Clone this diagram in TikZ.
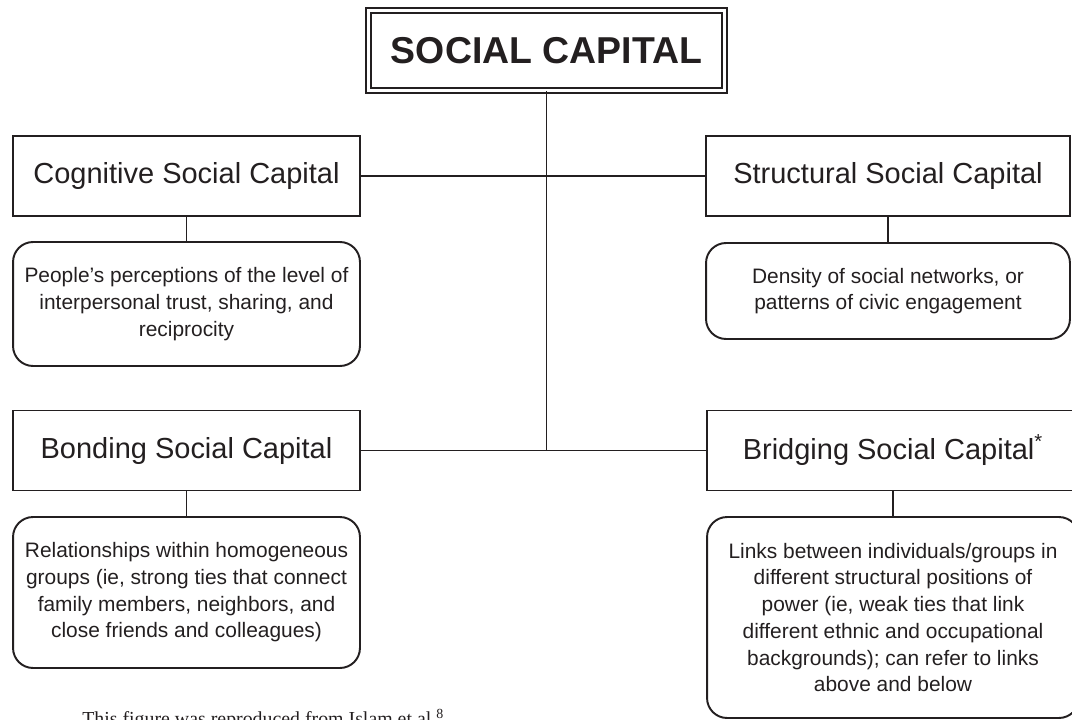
\documentclass[tikz,border=0pt]{standalone}
\usepackage{fontspec}
\setmainfont{Liberation Sans}
\newfontfamily\capfont{Liberation Serif}
\definecolor{ink}{RGB}{35,31,32}
\begin{document}
\begin{tikzpicture}[x=0.02cm,y=-0.02cm,
    capbox/.style={draw=ink,text=ink,line width=1.1pt,minimum height=1.6cm,font=\fontsize{16.5}{20}\selectfont},
    notebox/.style={draw=ink,text=ink,line width=1.1pt,rounded corners=0.4cm,align=center,font=\fontsize{11.9}{15.2}\selectfont},
    link/.style={draw=ink,line width=0.85pt}]
        \useasboundingbox (0,0) rectangle (1072,720);
        \node(title) at (546.5,50.5) [draw=ink,double,line width=1.1pt,double distance=1.6pt,minimum width=7.12cm,minimum height=1.6cm,font=\fontsize{21.3}{24}\selectfont\bfseries,text=ink]{SOCIAL CAPITAL};

        \node(cog) at (186.5,176) [capbox,minimum width=6.94cm]{Cognitive Social Capital};
        \node(struct) at (888,176) [capbox,minimum width=7.28cm]{Structural Social Capital};
        \node(bond) at (186.5,450.5) [capbox,minimum width=6.94cm]{Bonding Social Capital};
        \node(bridge) at (893,450.5) [capbox,minimum width=7.44cm]{Bridging Social Capital\textsuperscript{*}};

        \node(cogtxt) at (186.5,304) [notebox,minimum width=6.94cm,minimum height=2.48cm]{People’s perceptions of the level of\\interpersonal trust, sharing, and\\reciprocity};
        \node(structtxt) at (888,291) [notebox,minimum width=7.28cm,minimum height=1.92cm]{Density of social networks, or\\patterns of civic engagement};
        \node(bondtxt) at (186.5,592.5) [notebox,minimum width=6.94cm,minimum height=3.02cm]{Relationships within homogeneous\\groups (ie, strong ties that connect\\family members, neighbors, and\\close friends and colleagues)};
        \node(bridgetxt) at (893,617.5) [notebox,minimum width=7.44cm,minimum height=4.02cm]{Links between individuals/groups in\\different structural positions of\\power (ie, weak ties that link\\different ethnic and occupational\\backgrounds); can refer to links\\above and below};

        \coordinate(hub) at (title.south |- bond.east);
        \draw[link] (title.south) -- (hub);
        \draw[link] (cog.east) -- (struct.west);
        \draw[link] (bond.east) -- (bridge.west);
        \draw[link] (cog) -- (cogtxt);
        \draw[link] (struct) -- (structtxt);
        \draw[link] (bond) -- (bondtxt);
        \draw[link] (bridge) -- (bridgetxt);

        \node(cap) at (82,725) [anchor=base west,inner sep=0pt,text=ink,font=\capfont\fontsize{11.3}{13}\selectfont]{This figure was reproduced from Islam et al.\textsuperscript{8}};
    \end{tikzpicture}
\end{document}
